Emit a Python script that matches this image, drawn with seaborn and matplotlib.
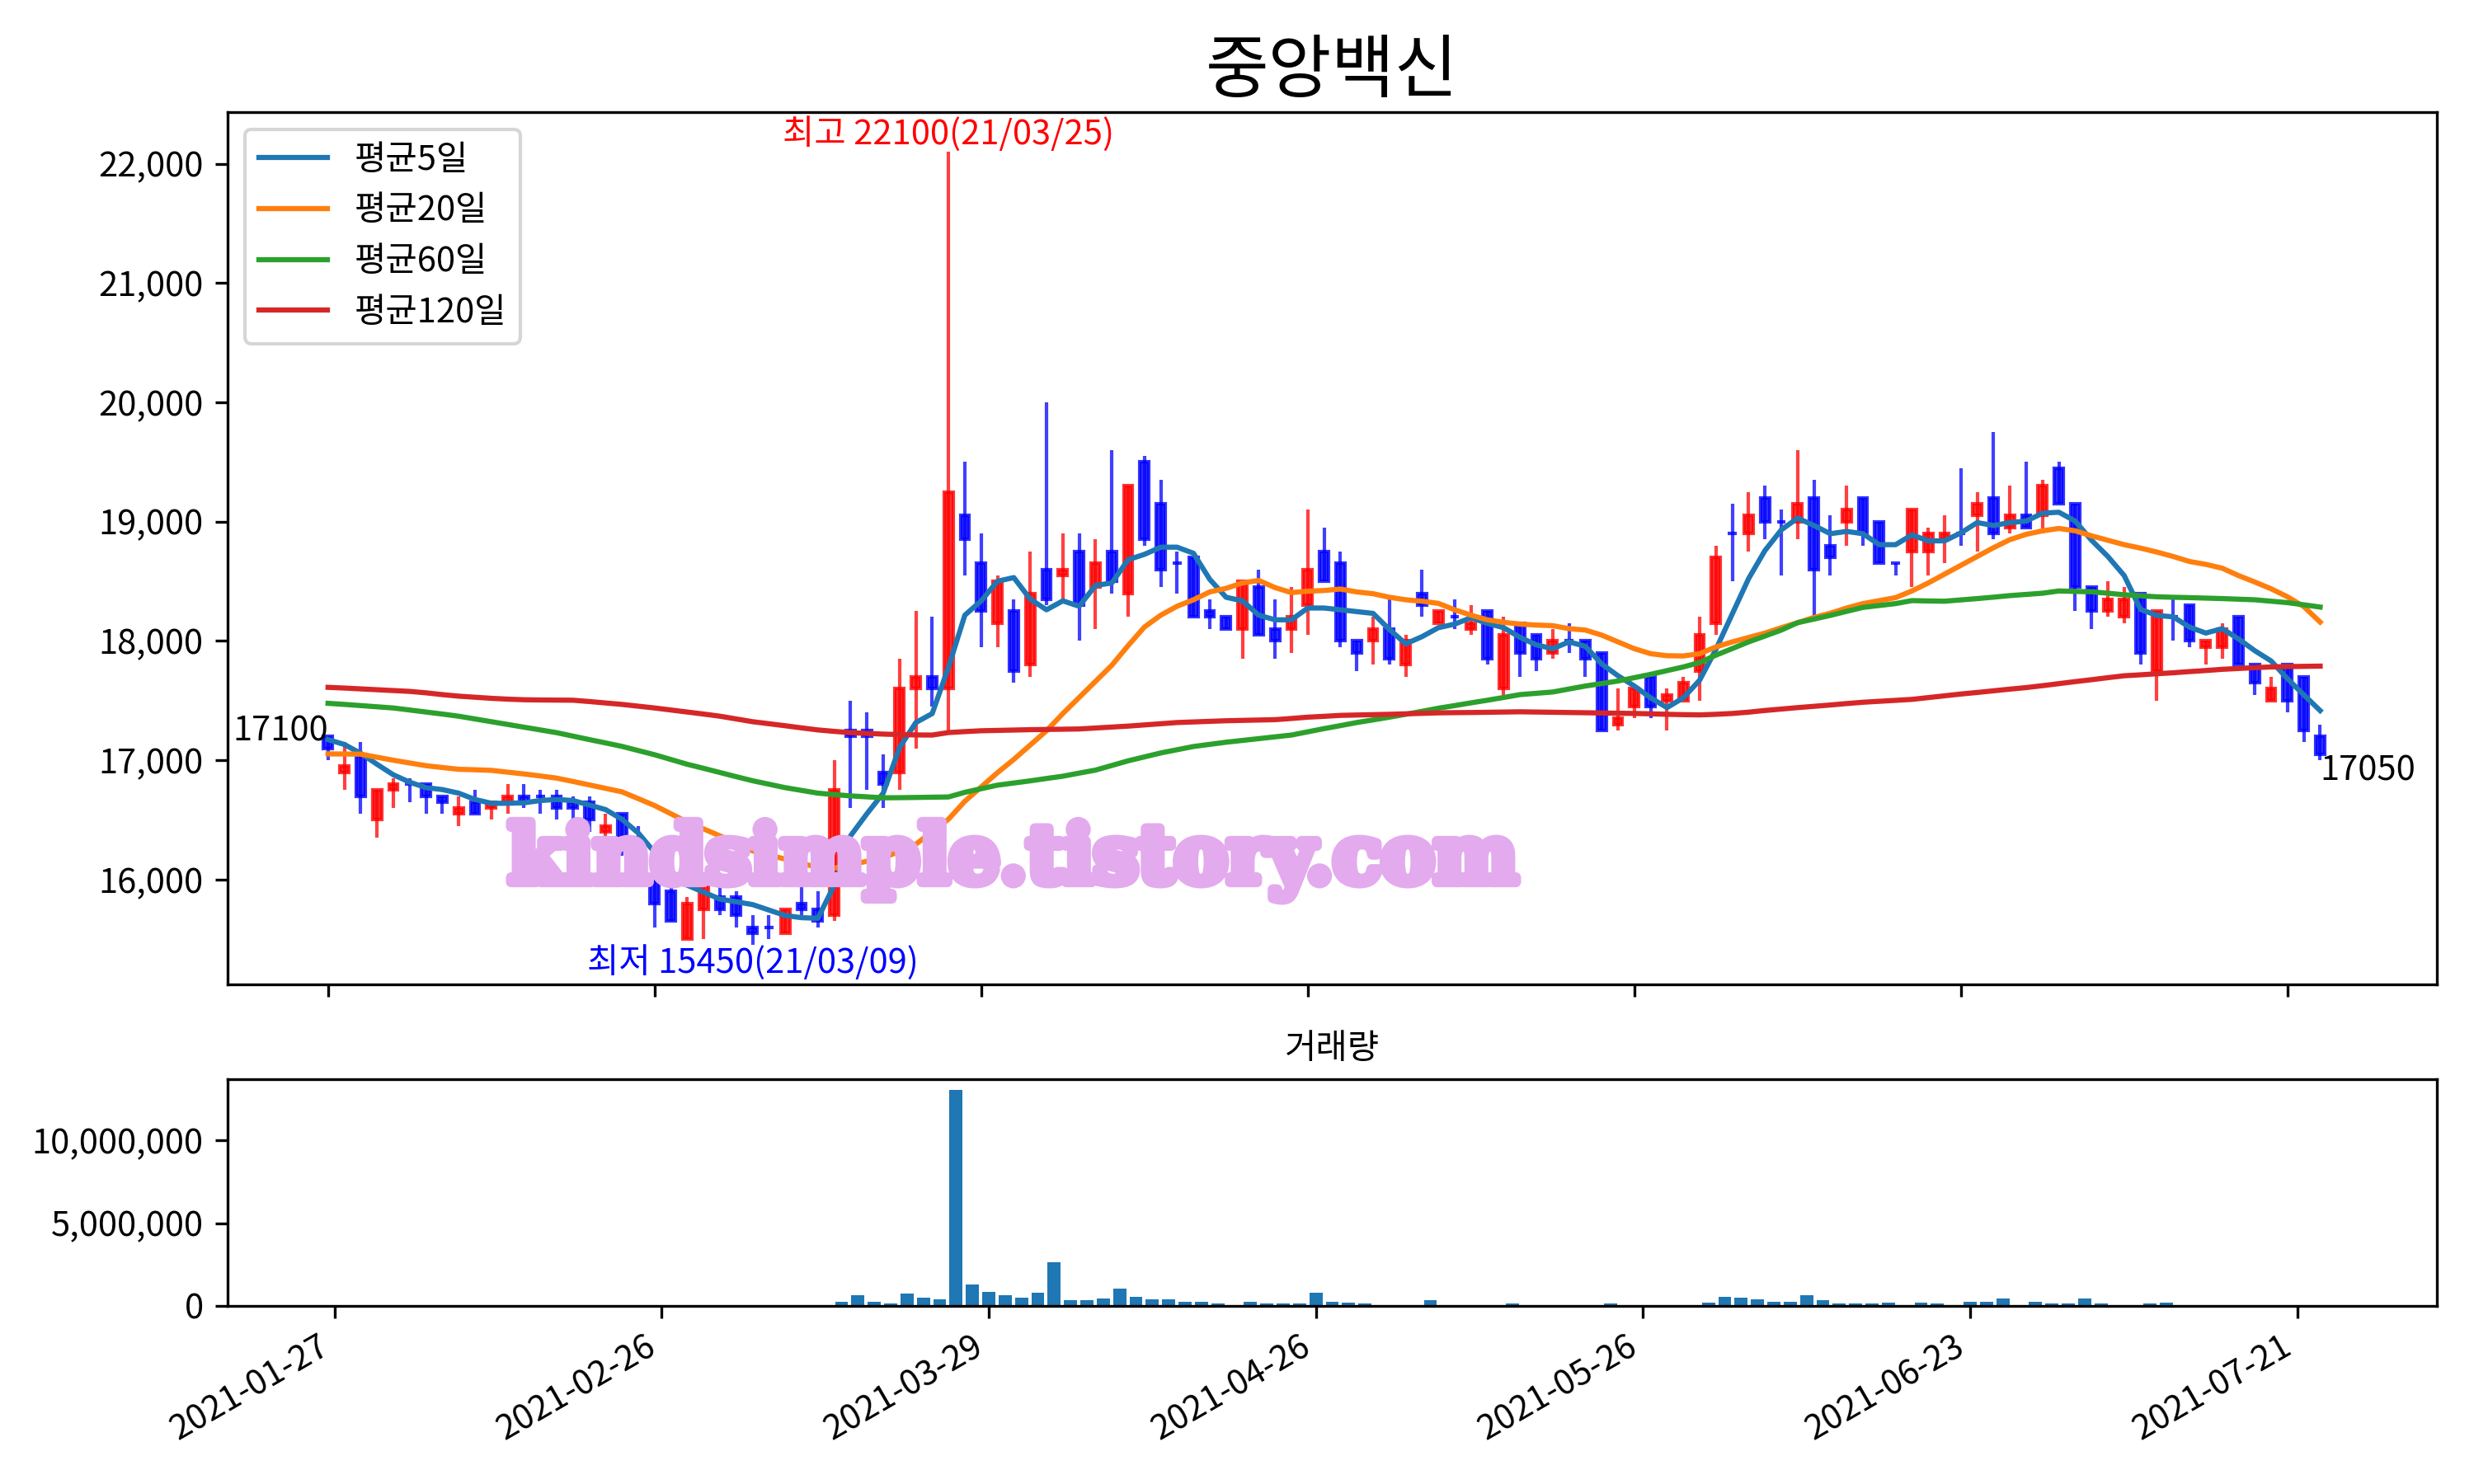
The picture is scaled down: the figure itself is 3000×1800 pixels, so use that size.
import numpy as np
import pandas as pd
import matplotlib
matplotlib.use("Agg")
import matplotlib.pyplot as plt
import matplotlib.patheffects as pe
import seaborn as sns
from matplotlib.ticker import FuncFormatter

# ---------------- data ----------------
opens = [17200, 16900, 17050, 16500, 16750, 16800, 16800, 16700, 16550, 16650,
         16600, 16650, 16700, 16700, 16700, 16650, 16650, 16400, 16550, 16350,
         16000, 15900, 15500, 15750, 15850, 15850, 15600, 15600, 15550, 15800,
         15750, 15700, 17250, 17250, 16900, 16900, 17600, 17700, 17600, 19050,
         18650, 18150, 18250, 17800, 18600, 18550, 18750, 18450, 18750, 18400,
         19500, 19150, 18650, 18700, 18250, 18200, 18100, 18450, 18100, 18100,
         18300, 18750, 18650, 18000, 18000, 18100, 17800, 18400, 18150, 18200,
         18100, 18250, 17600, 18150, 18050, 17900, 18000, 18000, 17900, 17300,
         17450, 17700, 17500, 17500, 17750, 18150, 18900, 18900, 19200, 19000,
         19000, 19200, 18800, 19000, 19200, 19000, 18650, 18750, 18750, 18850,
         18900, 19050, 19200, 18950, 19050, 19050, 19450, 19150, 18450, 18250,
         18200, 18400, 17750, 18200, 18300, 17950, 17950, 18200, 17800, 17500,
         17800, 17700, 17200]
highs = [17200, 17150, 17150, 16750, 16850, 16850, 16800, 16700, 16700, 16750,
         16650, 16800, 16800, 16750, 16750, 16700, 16700, 16550, 16550, 16450,
         16000, 15950, 15850, 16000, 15950, 15900, 15700, 15700, 15750, 15950,
         15900, 17000, 17500, 17400, 17050, 17850, 18250, 18200, 22100, 19500,
         18900, 18550, 18350, 18750, 20000, 18900, 18900, 18850, 19600, 19300,
         19550, 19350, 18750, 18700, 18350, 18200, 18500, 18600, 18350, 18450,
         19100, 18950, 18750, 18000, 18200, 18350, 18050, 18600, 18250, 18350,
         18300, 18250, 18200, 18150, 18050, 18100, 18150, 18000, 17900, 17600,
         17600, 17700, 17600, 17700, 18200, 18800, 19150, 19250, 19300, 19100,
         19600, 19350, 19050, 19300, 19200, 19000, 18650, 19100, 18950, 19050,
         19450, 19250, 19750, 19300, 19500, 19350, 19500, 19150, 18450, 18500,
         18450, 18400, 18250, 18350, 18300, 18000, 18150, 18200, 17800, 17700,
         17800, 17700, 17300]
lows = [17000, 16750, 16550, 16350, 16600, 16650, 16550, 16550, 16450, 16550,
        16500, 16550, 16600, 16550, 16500, 16500, 16400, 16350, 16200, 16050,
        15600, 15650, 15500, 15500, 15700, 15600, 15450, 15500, 15550, 15700,
        15600, 15650, 16600, 16750, 16600, 16750, 17100, 17450, 17250, 18550,
        17950, 17950, 17650, 17700, 18300, 18350, 18000, 18100, 18400, 18200,
        18800, 18450, 18400, 18200, 18100, 18100, 17850, 18050, 17850, 17900,
        18050, 18500, 17950, 17750, 17800, 17800, 17700, 18200, 18150, 18100,
        18050, 17800, 17550, 17700, 17750, 17850, 17900, 17700, 17250, 17250,
        17350, 17350, 17250, 17500, 17500, 18050, 18500, 18750, 18850, 18550,
        18850, 18200, 18550, 18800, 18800, 18650, 18550, 18450, 18550, 18650,
        18800, 18750, 18850, 18900, 18950, 18900, 19150, 18250, 18100, 18200,
        18150, 17800, 17500, 18000, 17950, 17800, 17850, 17800, 17550, 17500,
        17400, 17150, 17000]
closes = [17100, 16950, 16700, 16750, 16800, 16800, 16700, 16650, 16600, 16550,
          16650, 16700, 16650, 16700, 16600, 16600, 16500, 16450, 16250, 16100,
          15800, 15650, 15800, 16000, 15750, 15700, 15550, 15600, 15750, 15750,
          15650, 16750, 17200, 17200, 16800, 17600, 17700, 17600, 19250, 18850,
          18250, 18500, 17750, 18400, 18350, 18600, 18300, 18650, 18500, 19300,
          18850, 18600, 18650, 18200, 18200, 18100, 18500, 18050, 18000, 18200,
          18600, 18500, 18000, 17900, 18100, 17850, 18000, 18300, 18250, 18200,
          18150, 17850, 18050, 17900, 17850, 18000, 18000, 17850, 17250, 17350,
          17600, 17450, 17550, 17650, 18050, 18700, 18900, 19050, 19000, 19000,
          19150, 18600, 18700, 19100, 18900, 18650, 18650, 19100, 18900, 18900,
          18900, 19150, 18900, 19050, 18950, 19300, 19150, 18450, 18250, 18350,
          18350, 17900, 18250, 18200, 18000, 18000, 18100, 17800, 17650, 17600,
          17500, 17250, 17050]
volumes = [20000, 70000, 20000, 10000, 20000, 10000, 20000, 10000, 20000, 10000,
           20000, 10000, 20000, 10000, 20000, 10000, 20000, 10000, 20000, 10000,
           20000, 10000, 20000, 10000, 20000, 10000, 20000, 10000, 20000, 10000,
           20000, 240000, 640000, 270000, 130000, 730000, 490000, 400000, 13070000, 1320000,
           870000, 640000, 490000, 780000, 2630000, 330000, 330000, 450000, 1030000, 530000,
           400000, 400000, 240000, 230000, 130000, 70000, 240000, 130000, 130000, 130000,
           780000, 270000, 180000, 130000, 70000, 70000, 20000, 330000, 70000, 70000,
           70000, 70000, 130000, 70000, 20000, 10000, 20000, 70000, 130000, 20000,
           70000, 10000, 20000, 10000, 180000, 530000, 490000, 400000, 270000, 240000,
           640000, 330000, 130000, 130000, 130000, 180000, 70000, 180000, 130000, 70000,
           270000, 240000, 450000, 70000, 270000, 130000, 130000, 450000, 130000, 70000,
           20000, 130000, 180000, 70000, 20000, 10000, 20000, 70000, 20000, 10000,
           20000, 70000, 70000]
ma5 = [17173, 17132, 17058, 16966, 16878, 16816, 16770, 16754, 16724, 16671,
       16639, 16639, 16643, 16662, 16671, 16662, 16625, 16586, 16505, 16390,
       16228, 16067, 15952, 15894, 15836, 15813, 15790, 15744, 15698, 15680,
       15675, 15952, 16366, 16551, 16724, 17106, 17316, 17391, 17781, 18216,
       18336, 18501, 18531, 18351, 18261, 18336, 18291, 18465, 18486, 18681,
       18726, 18786, 18786, 18735, 18516, 18366, 18336, 18216, 18177, 18177,
       18276, 18276, 18261, 18246, 18231, 18096, 17976, 18036, 18111, 18141,
       18195, 18147, 18111, 18030, 17967, 17935, 17992, 17955, 17807, 17708,
       17622, 17523, 17441, 17523, 17671, 17930, 18227, 18523, 18758, 18931,
       19030, 18968, 18899, 18918, 18899, 18807, 18807, 18889, 18839, 18839,
       18906, 18992, 18968, 18992, 19005, 19071, 19079, 19005, 18844, 18708,
       18548, 18264, 18214, 18202, 18116, 18066, 18103, 18017, 17918, 17832,
       17683, 17548, 17416]
ma20 = [17053, 17052, 17051, 17025, 17000, 16977, 16954, 16939, 16924, 16920,
        16915, 16900, 16885, 16868, 16850, 16822, 16793, 16764, 16735, 16678,
        16620, 16551, 16482, 16424, 16366, 16303, 16240, 16205, 16171, 16136,
        16101, 16095, 16124, 16153, 16182, 16236, 16296, 16401, 16506, 16656,
        16776, 16896, 17007, 17127, 17247, 17391, 17526, 17661, 17796, 17961,
        18117, 18216, 18291, 18345, 18411, 18441, 18486, 18507, 18447, 18405,
        18417, 18423, 18435, 18411, 18396, 18366, 18345, 18333, 18315, 18261,
        18216, 18177, 18156, 18141, 18133, 18128, 18103, 18091, 18049, 17992,
        17935, 17893, 17876, 17874, 17893, 17950, 17992, 18029, 18066, 18111,
        18153, 18197, 18232, 18276, 18313, 18338, 18363, 18419, 18486, 18560,
        18634, 18708, 18782, 18849, 18894, 18923, 18943, 18923, 18881, 18844,
        18807, 18778, 18745, 18708, 18666, 18642, 18610, 18548, 18494, 18437,
        18370, 18288, 18158]
ma60 = [17477, 17468, 17458, 17448, 17438, 17421, 17404, 17387, 17369, 17346,
        17323, 17300, 17277, 17254, 17231, 17202, 17173, 17145, 17116, 17081,
        17046, 17006, 16966, 16932, 16897, 16862, 16828, 16799, 16770, 16747,
        16724, 16712, 16701, 16693, 16685, 16686, 16688, 16690, 16692, 16731,
        16761, 16791, 16809, 16827, 16847, 16866, 16892, 16917, 16956, 16995,
        17028, 17061, 17088, 17115, 17133, 17151, 17166, 17181, 17196, 17211,
        17238, 17265, 17290, 17316, 17338, 17361, 17385, 17410, 17436, 17458,
        17481, 17503, 17526, 17550, 17561, 17572, 17597, 17622, 17643, 17664,
        17692, 17720, 17751, 17782, 17819, 17881, 17936, 17992, 18041, 18091,
        18153, 18183, 18214, 18248, 18281, 18297, 18313, 18338, 18335, 18333,
        18344, 18355, 18367, 18380, 18390, 18400, 18419, 18415, 18412, 18400,
        18387, 18378, 18370, 18366, 18363, 18359, 18355, 18350, 18345, 18333,
        18321, 18303, 18284]
ma120 = [17611, 17605, 17598, 17591, 17584, 17577, 17565, 17550, 17537, 17528,
         17519, 17512, 17507, 17505, 17504, 17503, 17492, 17480, 17468, 17453,
         17438, 17421, 17404, 17387, 17369, 17346, 17323, 17306, 17289, 17271,
         17254, 17242, 17231, 17225, 17219, 17215, 17212, 17211, 17232, 17240,
         17247, 17250, 17253, 17256, 17258, 17260, 17262, 17270, 17278, 17286,
         17296, 17306, 17316, 17321, 17326, 17331, 17334, 17337, 17340, 17350,
         17361, 17368, 17376, 17379, 17382, 17385, 17389, 17393, 17397, 17399,
         17400, 17402, 17404, 17406, 17404, 17402, 17400, 17398, 17396, 17394,
         17392, 17389, 17385, 17382, 17380, 17385, 17392, 17403, 17417, 17429,
         17441, 17452, 17463, 17475, 17486, 17494, 17502, 17510, 17525, 17540,
         17555, 17568, 17582, 17596, 17609, 17625, 17642, 17659, 17675, 17692,
         17708, 17716, 17725, 17733, 17743, 17752, 17762, 17769, 17776, 17782,
         17785, 17787, 17789]
tick_pos = [0, 20, 40, 60, 80, 100, 120]
tick_labels = ["2021-01-27", "2021-02-26", "2021-03-29", "2021-04-26",
               "2021-05-26", "2021-06-23", "2021-07-21"]
ma_labels = ["평균5일", "평균20일", "평균60일", "평균120일"]
title = "중앙백신"
high_note = "최고 22100(21/03/25)"
low_note = "최저 15450(21/03/09)"
high_idx, high_val = 38, 22100
low_idx, low_val = 26, 15450

# ---------------- figure ----------------
plt.rcParams['font.family'] = ['Noto Sans CJK KR', 'DejaVu Sans']
plt.rcParams['axes.unicode_minus'] = False

df = pd.DataFrame({"open": opens, "high": highs, "low": lows, "close": closes,
                   "volume": volumes, "ma5": ma5, "ma20": ma20,
                   "ma60": ma60, "ma120": ma120})
df["idx"] = np.arange(len(df))
cols = np.where(df["close"] > df["open"], "red", "blue")

fig = plt.figure(figsize=(10, 6), dpi=300)
ax = fig.add_axes([0.092, 0.3364, 0.893, 0.588])
axv = fig.add_axes([0.092, 0.12, 0.893, 0.153])

# candles
ax.vlines(df["idx"], df["low"], df["high"], colors=cols, linewidth=1.0,
          alpha=0.75, zorder=1)
ax.bar(df["idx"], df["close"] - df["open"], bottom=df["open"], width=0.55,
       color=cols, edgecolor=cols, linewidth=1.0, alpha=0.8, zorder=2)

# moving averages
ma_cols = ["#1f77b4", "#ff7f0e", "#2ca02c", "#d62728"]
for key, lab, c in zip(["ma5", "ma20", "ma60", "ma120"], ma_labels, ma_cols):
    sns.lineplot(data=df, x="idx", y=key, ax=ax, color=c, label=lab,
                 linewidth=1.5, zorder=3)

ax.legend(loc="upper left")
ax.set_xlim(-6.15, 129.15)
ax.set_ylim(15117.5, 22432.5)
ax.set_xticks(tick_pos)
ax.set_xticklabels([])
ax.set_xlabel("")
ax.set_ylabel("")
ax.yaxis.set_major_formatter(FuncFormatter(lambda v, p: f"{v:,.0f}"))
ax.set_title(title, fontsize=20)

ax.text(high_idx, high_val, high_note, color="red", ha="center", va="bottom")
ax.text(low_idx, low_val, low_note, color="blue", ha="center", va="top")
ax.text(0, closes[0], f"{closes[0]}", ha="right", va="bottom")
ax.text(len(closes) - 1, closes[-1], f"{closes[-1]}", ha="left", va="top")

# watermark
fig.text(0.4095, 0.4056, "kindsimple.tistory.com", family="DejaVu Serif",
         fontweight="bold", fontsize=23, color="#E3AAEE", ha="center",
         va="baseline", zorder=10,
         path_effects=[pe.withStroke(linewidth=3, foreground="#E3AAEE")])

# volume
axv.bar(df["idx"], df["volume"], width=0.8, color="#1f77b4")
axv.set_xlim(-6.54, 128.54)
axv.set_xticks(tick_pos)
axv.set_xticklabels(tick_labels, rotation=30, ha="right")
axv.set_yticks([0, 5000000, 10000000])
axv.yaxis.set_major_formatter(FuncFormatter(lambda v, p: f"{v:,.0f}"))
axv.set_title("거래량", fontsize=10)

fig.savefig("out.png", dpi=300)
